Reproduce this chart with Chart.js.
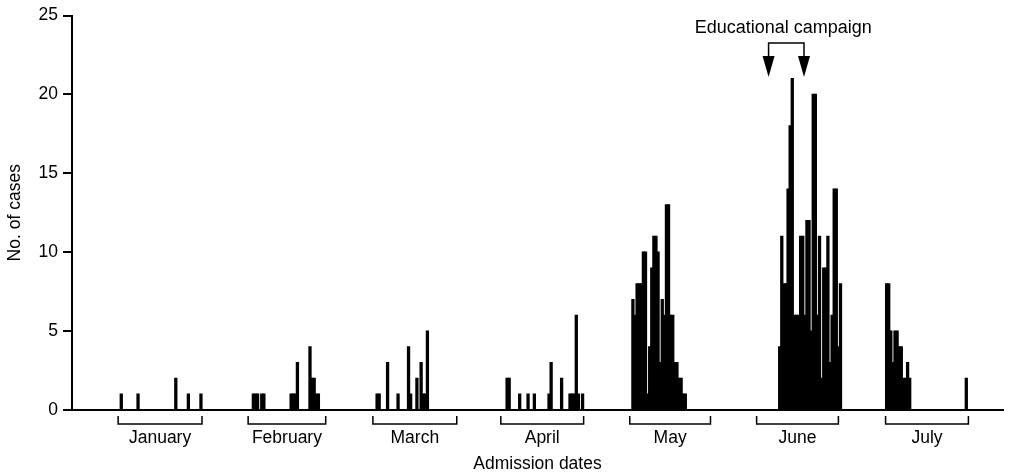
<!DOCTYPE html>
<html>
<head>
<meta charset="utf-8">
<script src="https://cdn.jsdelivr.net/npm/chart.js@4.4.1/dist/chart.umd.min.js"></script>
<style>
  html, body { margin: 0; background: #fff; }
  #wrap { width: 1018px; height: 476px; }
</style>
</head>
<body>
<div id="wrap"><canvas id="epiCurve"></canvas></div>
<script>
// x positions are half-day slots along the admission-date axis
const slots = [
  23, 31, 49, 55, 61,
  86, 87, 88, 90, 91, 104, 105, 106, 107, 113, 114, 115, 116, 117,
  145, 146, 150, 155, 160, 161, 164, 166, 167, 168, 169,
  207, 208, 213, 217, 220, 227, 228, 233, 237, 238, 239, 240, 241, 243,
  267, 268, 269, 270, 271, 272, 273, 274, 275, 276, 277, 278, 279, 280, 281, 282, 283, 284, 285, 286, 287, 288, 289, 290, 291, 292,
  337, 338, 339, 340, 341, 342, 343, 344, 345, 346, 347, 348, 349, 350, 351, 352, 353, 354, 355, 356, 357, 358, 359, 360, 361, 362, 363, 364, 365, 366,
  388, 389, 390, 391, 392, 393, 394, 395, 396, 397, 398, 399, 426,
];
const cases = [
  1, 1, 2, 1, 1,
  1, 1, 1, 1, 1, 1, 1, 1, 3, 4, 2, 2, 1, 1,
  1, 1, 3, 1, 4, 1, 2, 3, 1, 1, 5,
  2, 2, 1, 1, 1, 1, 3, 2, 1, 1, 1, 6, 1, 1,
  7, 6, 8, 8, 8, 10, 10, 1, 4, 9, 11, 11, 10, 3, 7, 6, 13, 13, 6, 6, 3, 3, 2, 2, 1, 1,
  4, 11, 8, 8, 14, 18, 21, 6, 6, 6, 11, 11, 6, 12, 12, 5, 20, 20, 6, 11, 2, 9, 9, 11, 3, 6, 14, 14, 4, 8,
  8, 8, 5, 3, 5, 5, 4, 4, 2, 2, 3, 2, 2,
];
const months = ['January', 'February', 'March', 'April', 'May', 'June', 'July'];
const monthFrom = [21.5, 83.5, 143, 204, 265.5, 326, 387.5];
const monthTo = [61.5, 120.5, 183, 243.5, 304, 365, 427];
const campaignSlots = [331.7, 348.6];

const FONT = '"Liberation Sans", Arial, sans-serif';

const extras = {
  id: 'extras',
  afterDraw(chart) {
    const { ctx, scales: { x } } = chart;
    const base = chart.chartArea.bottom;
    ctx.save();
    ctx.strokeStyle = '#000';
    ctx.fillStyle = '#000';
    ctx.lineWidth = 1.5;
    ctx.font = '17.5px ' + FONT;
    ctx.textAlign = 'center';
    ctx.textBaseline = 'middle';

    // month brackets under the axis
    months.forEach((m, i) => {
      const a = x.getPixelForValue(monthFrom[i]);
      const b = x.getPixelForValue(monthTo[i]);
      ctx.beginPath();
      ctx.moveTo(a, base + 6);
      ctx.lineTo(a, base + 14);
      ctx.lineTo(b, base + 14);
      ctx.lineTo(b, base + 6);
      ctx.stroke();
      ctx.fillText(m, (a + b) / 2, base + 28);
    });

    // educational campaign arrows
    const p1 = x.getPixelForValue(campaignSlots[0]);
    const p2 = x.getPixelForValue(campaignSlots[1]);
    ctx.beginPath();
    ctx.moveTo(p1, 58);
    ctx.lineTo(p1, 43);
    ctx.lineTo(p2, 43);
    ctx.lineTo(p2, 58);
    ctx.stroke();
    [p1, p2].forEach(p => {
      ctx.beginPath();
      ctx.moveTo(p - 6, 56);
      ctx.lineTo(p + 6, 56);
      ctx.lineTo(p, 77);
      ctx.closePath();
      ctx.fill();
    });
    ctx.font = '18px ' + FONT;
    ctx.fillText('Educational campaign', (p1 + p2) / 2 - 3, 28);
    ctx.restore();
  }
};

new Chart(document.getElementById('epiCurve'), {
  type: 'bar',
  data: {
    datasets: [{
      data: slots.map((s, i) => ({ x: s, y: cases[i] })),
      backgroundColor: '#000',
      borderWidth: 0,
      inflateAmount: 0.6,
      barPercentage: 1,
      categoryPercentage: 1,
    }],
  },
  options: {
    responsive: true, maintainAspectRatio: false, animation: false,
    layout: { padding: { top: 15, right: 15, left: 0, bottom: 0 } },
    plugins: { legend: { display: false }, tooltip: { enabled: false } },
    scales: {
      x: {
        type: 'linear', min: -0.5, max: 443.5, offset: false,
        grid: { display: false },
        ticks: { display: false },
        border: { color: '#000', width: 2 },
        title: { display: true, text: 'Admission dates', color: '#000', font: { family: FONT, size: 17.5 }, padding: { top: 0, bottom: 1 } },
        afterFit: (s) => { s.height = 66; },
      },
      y: {
        min: 0, max: 25,
        ticks: { stepSize: 5, color: '#000', font: { family: FONT, size: 17.5 }, padding: 5 },
        grid: { drawOnChartArea: false, color: '#000', lineWidth: 2, tickLength: 9 },
        border: { color: '#000', width: 2 },
        title: { display: true, text: 'No. of cases', color: '#000', font: { family: FONT, size: 17.5 }, padding: { top: 5, bottom: 4 } },
        afterFit: (s) => { s.width = 72; },
      },
    },
  },
  plugins: [extras],
});
</script>
</body>
</html>
